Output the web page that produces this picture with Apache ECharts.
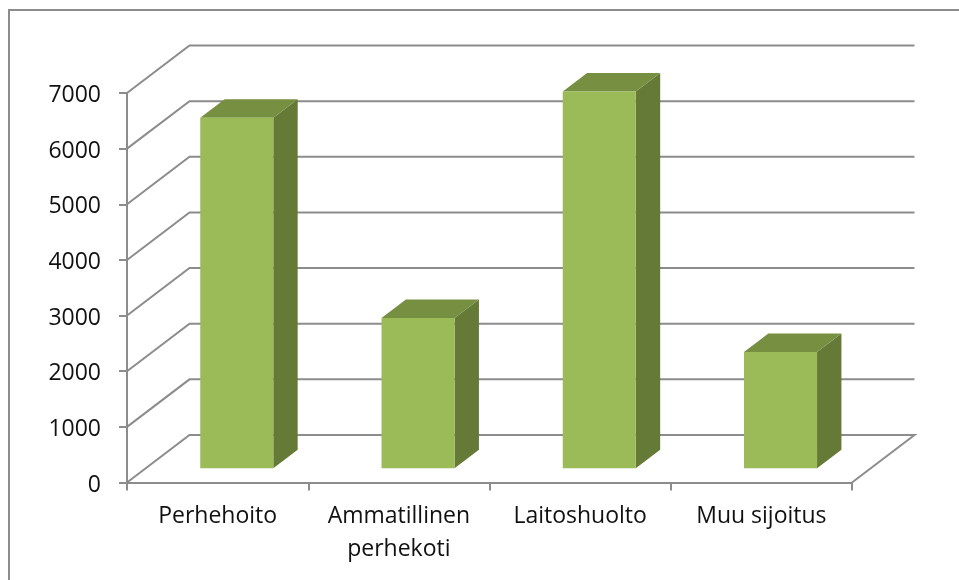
<!DOCTYPE html>
<html>
<head>
<meta charset="utf-8">
<style>html,body{margin:0;padding:0;background:#fff}#c{width:959px;height:580px}</style>
<script src="https://cdn.jsdelivr.net/npm/echarts@6/dist/echarts.min.js"></script>
</head>
<body>
<div id="c"></div>
<script>
const categories = ['Perhehoito', 'Ammatillinen\nperhekoti', 'Laitoshuolto', 'Muu sijoitus'];
const values = [6300, 2700, 6770, 2090];
const yTicks = [0, 1000, 2000, 3000, 4000, 5000, 6000, 7000];

const LINE = '#8c8c8c', FRONT = '#9BBB59', TOP = '#768F41', SIDE = '#647A36';
const FONT = '"Open Sans", sans-serif';
const DEPTH_X = 62.5, DEPTH_Y = 47.5;
const BAR_NEAR = 0.3, BAR_FAR = 0.69, BAR_W = 0.403;

const chart = echarts.init(document.getElementById('c'), null, {renderer: 'canvas'});
chart.setOption({
  animation: false,
  backgroundColor: '#fff',
  graphic: [{type: 'rect', silent: true, z: -1,
    shape: {x: 9, y: 10, width: 1100, height: 700},
    style: {fill: 'none', stroke: LINE, lineWidth: 2}}],
  grid: {left: 127, right: 107, top: 93, bottom: 97.5, containLabel: false},
  xAxis: {
    type: 'category', data: categories,
    axisLine: {lineStyle: {color: LINE, width: 2}},
    axisTick: {show: true, alignWithLabel: false, length: 8, lineStyle: {color: LINE, width: 2}},
    axisLabel: {color: '#111', fontFamily: FONT, fontSize: 23, lineHeight: 33, margin: 17, interval: 0}
  },
  yAxis: {
    type: 'value', min: 0, max: 7000, interval: 1000,
    axisLine: {show: true, lineStyle: {color: LINE, width: 2}},
    axisTick: {show: true, length: 8, lineStyle: {color: LINE, width: 2}},
    axisLabel: {color: '#111', fontFamily: FONT, fontSize: 23, margin: 26, verticalAlign: 'top', lineHeight: 5, formatter: v => String(v)},
    splitLine: {show: false}
  },
  series: [
    {
      type: 'custom', z: 1, silent: true, clip: false,
      data: yTicks,
      encode: {y: 0},
      renderItem(params, api) {
        const cs = params.coordSys;
        const y = api.coord([0, api.value(0)])[1];
        const x0 = cs.x, x1 = cs.x + cs.width;
        const pts = [[x0, y], [x0 + DEPTH_X, y - DEPTH_Y], [x1 + DEPTH_X, y - DEPTH_Y]];
        if (api.value(0) === 0) pts.push([x1, y]);
        return {type: 'polyline', shape: {points: pts},
          style: {fill: 'none', stroke: LINE, lineWidth: 2}};
      }
    },
    {
      type: 'custom', z: 2, silent: true, clip: false,
      data: values.map((v, i) => [i, v]),
      encode: {x: 0, y: 1},
      renderItem(params, api) {
        const top = api.coord([api.value(0), api.value(1)]);
        const base = api.coord([api.value(0), 0]);
        const w = api.size([1, 0])[0] * BAR_W;
        const nx = DEPTH_X * BAR_NEAR, ny = DEPTH_Y * BAR_NEAR;
        const dx = DEPTH_X * (BAR_FAR - BAR_NEAR), dy = DEPTH_Y * (BAR_FAR - BAR_NEAR);
        const l = top[0] - w / 2 + nx + 0.4, r = l + w;
        const t = top[1] - ny, b = base[1] - ny;
        return {type: 'group', children: [
          {type: 'polygon', shape: {points: [[r, t], [r + dx, t - dy], [r + dx, b - dy], [r, b]]}, style: {fill: SIDE}},
          {type: 'polygon', shape: {points: [[l, t], [l + dx, t - dy], [r + dx, t - dy], [r, t]]}, style: {fill: TOP}},
          {type: 'rect', shape: {x: l, y: t, width: w, height: b - t}, style: {fill: FRONT}}
        ]};
      }
    }
  ]
});
</script>
</body>
</html>
